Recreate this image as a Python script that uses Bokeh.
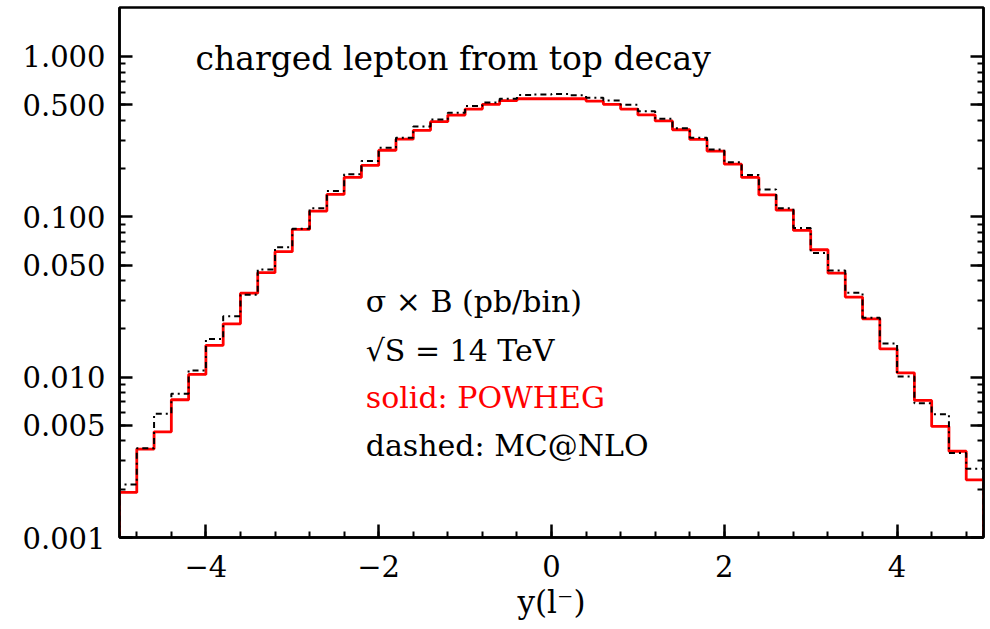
import numpy as np
from bokeh.plotting import figure
from bokeh.models import Range1d, FixedTicker, CustomJSTickFormatter, LogAxis, Label
from bokeh.embed import file_html
from bokeh.resources import INLINE

# ---------------- data ----------------
bin_edges = np.round(np.linspace(-5.0, 5.0, 51), 2)   # 50 bins of width 0.2

powheg = [0.00191, 0.00356, 0.00456, 0.00723, 0.0104, 0.0158, 0.0215, 0.0334, 0.0448, 0.0606,
          0.0834, 0.1086, 0.138, 0.176, 0.209, 0.260, 0.305, 0.346, 0.392, 0.431,
          0.470, 0.503, 0.530, 0.545, 0.545, 0.545, 0.545, 0.527, 0.503, 0.470,
          0.432, 0.396, 0.349, 0.304, 0.257, 0.213, 0.176, 0.137, 0.110, 0.0822,
          0.0623, 0.0445, 0.0316, 0.0231, 0.0150, 0.01064, 0.00716, 0.00493, 0.00345, 0.00229]

mcnlo = [0.00214, 0.00360, 0.00591, 0.00788, 0.0110, 0.0173, 0.0240, 0.0327, 0.0470, 0.0647,
         0.0843, 0.113, 0.145, 0.184, 0.223, 0.270, 0.311, 0.366, 0.405, 0.446,
         0.491, 0.517, 0.545, 0.574, 0.580, 0.583, 0.572, 0.553, 0.532, 0.500,
         0.455, 0.409, 0.357, 0.311, 0.263, 0.219, 0.182, 0.148, 0.113, 0.0851,
         0.0594, 0.0463, 0.0336, 0.0235, 0.0162, 0.0101, 0.00688, 0.00588, 0.00336, 0.00268]

x_major = [-4, -2, 0, 2, 4]
x_minor = [round(-4.8 + 0.4 * i, 1) for i in range(25)]
y_major = [0.001, 0.005, 0.01, 0.05, 0.1, 0.5, 1.0]
y_minor = [m * 10.0 ** e for e in (-3, -2, -1) for m in range(2, 10)]

title_text = "charged lepton from top decay"
info_lines = ["σ × B (pb/bin)", "√S = 14 TeV", "solid: POWHEG", "dashed: MC@NLO"]
info_colors = ["black", "black", "red", "black"]
x_label = "y(l\u207b)"

# ---------------- figure ----------------
YMIN, YMAX = 0.001, 2.02
FONT = "DejaVu Serif"

p = figure(width=990, height=629, x_range=Range1d(-5, 5), y_range=Range1d(YMIN, YMAX),
           y_axis_type="log", output_backend="svg", toolbar_location=None,
           min_border_left=119, min_border_right=7, min_border_top=7, min_border_bottom=92)
p.grid.visible = False
p.outline_line_color = "black"
p.outline_line_width = 2.5
p.background_fill_color = "white"
p.border_fill_color = "white"

def step_path(vals):
    xs = [float(bin_edges[0])] + [float(v) for v in bin_edges]
    ys = [YMIN] + list(vals) + [YMIN]
    return xs, ys

xr, yr = step_path(powheg)
xb, yb = step_path(mcnlo)
p.step(xr, yr, mode="after", line_color="red", line_width=2.8)
p.step(xb, yb, mode="after", line_color="black", line_width=2.0, line_dash="6 4 2 4")

# ---------------- axes ----------------
def style_axis(ax):
    ax.axis_line_width = 2.5
    ax.axis_line_color = "black"
    ax.major_tick_line_width = 2.5
    ax.minor_tick_line_width = 2.0
    ax.major_tick_in = 13
    ax.major_tick_out = 0
    ax.minor_tick_in = 6
    ax.minor_tick_out = 0
    ax.major_label_text_font = FONT
    ax.major_label_text_font_size = "29px"
    ax.major_label_text_color = "black"

yax = p.yaxis[0]
yax.ticker = FixedTicker(ticks=y_major, minor_ticks=y_minor)
yax.formatter = CustomJSTickFormatter(code="return tick.toFixed(3);")
style_axis(yax)
yax.major_label_standoff = 14

xax = p.xaxis[0]
xax.ticker = FixedTicker(ticks=x_major, minor_ticks=x_minor)
xax.formatter = CustomJSTickFormatter(code="return tick < 0 ? '\u2212' + (-tick) : String(tick);")
style_axis(xax)
xax.major_label_standoff = 17
xax.axis_label = x_label
xax.axis_label_text_font = FONT
xax.axis_label_text_font_size = "31px"
xax.axis_label_text_font_style = "normal"
xax.axis_label_text_color = "black"
xax.axis_label_standoff = 4

rax = LogAxis(ticker=FixedTicker(ticks=y_major, minor_ticks=y_minor),
              formatter=CustomJSTickFormatter(code="return '';"))
style_axis(rax)
rax.major_label_standoff = 0
p.add_layout(rax, "right")

# ---------------- texts ----------------
p.add_layout(Label(x=-4.12, y=0.97, text=title_text, text_font=FONT, text_font_size="33px",
                   text_color="black", text_baseline="alphabetic"))

info_x = -2.15
info_y = [0.0297, 0.01466, 0.00747, 0.00375]
for t, c, yy in zip(info_lines, info_colors, info_y):
    p.add_layout(Label(x=info_x, y=yy, text=t, text_font=FONT, text_font_size="30px",
                       text_color=c, text_baseline="alphabetic"))

open("out.html", "w").write(file_html(p, INLINE))
